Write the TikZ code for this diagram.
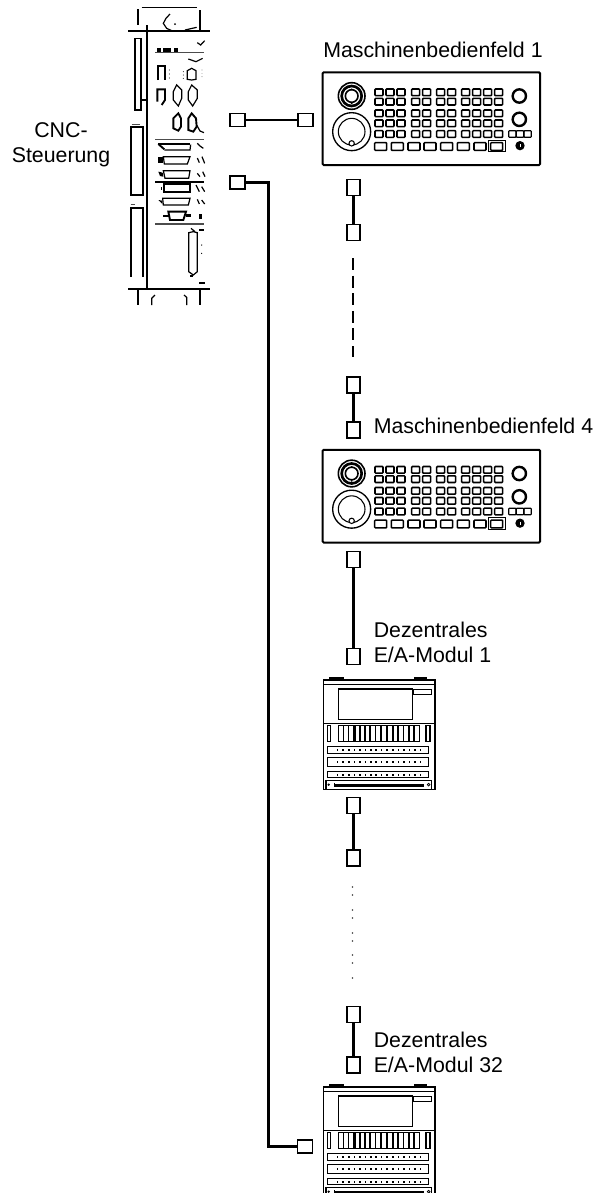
\documentclass[tikz,border=0pt]{standalone}
\usepackage{fontspec}
\setmainfont{Liberation Sans}
\tikzset{
  lbl/.style={inner sep=0pt,font=\fontsize{16pt}{18.75pt}\selectfont,align=left,text=black},
  sqh/.style={draw=black,line width=1.1pt,fill=white,minimum width=11pt,minimum height=10pt,inner sep=0pt,outer sep=0pt},
  sqv/.style={draw=black,line width=1.1pt,fill=white,minimum width=10pt,minimum height=12pt,inner sep=0pt,outer sep=0pt},
  wire/.style={draw=black,line width=1.9pt},
  key/.style={draw=black,line width=1.15pt,rounded corners=.6pt},
  dv/.style={draw=black,line width=.9pt},
  dvt/.style={draw=black,line width=1.4pt},
  dvl/.style={draw=black!70,line width=.6pt},
}
\newcommand{\mypanel}[2]{%
\begin{scope}[shift={(#1,#2)},x=.25pt,y=-.25pt]
  \draw[line width=1.5pt,rounded corners=.8pt] (38,37) rectangle (690,315);
  \foreach \yy in {97,125,160,190,222}{
    \foreach \xx in {207,240,273,317,350,392,425,467,500,533,566}{
      \draw[key] (\xx-12,\yy-10) rectangle (\xx+12,\yy+10);
    }}
  \foreach \xx in {212,262,312,360,410,460,510,560}{
    \draw[key] (\xx-18,248) rectangle (\xx+18,271);
  }
  \draw[line width=.7pt] (535,241) rectangle (585,275);
  \draw[line width=1.2pt] (125,108) circle (40);
  \draw[line width=2pt] (125,108) circle (30);
  \draw[line width=1.2pt] (125,108) circle (19);
  \fill (125,88) circle (3);
  \fill (125,130) circle (3);
  \draw[line width=1pt] (125,215) circle (57);
  \draw[line width=.8pt] (125,215) circle (40);
  \draw[line width=.8pt,fill=white] (125,250) circle (8);
  \draw[line width=1.8pt] (628,108) circle (20);
  \draw[line width=1.8pt] (628,178) circle (20);
  \foreach \xx in {607,630,653}{\draw[key,line width=.9pt] (\xx-11,212) rectangle (\xx+11,232);}
  \fill (630,257) circle (14);
  \draw[white,line width=.4pt] (630,252) -- (630,262);
\end{scope}}
\newcommand{\mymodule}[2]{%
\begin{scope}[shift={(#1,#2)},x=.25pt,y=-.25pt]
  \draw[line width=1.4pt,fill=black] (45,30) rectangle (85,25);
  \draw[line width=1.4pt,fill=black] (300,30) rectangle (333,25);
  \draw[line width=1pt] (25,30) rectangle (360,358);
  \draw[line width=.9pt] (25,43) -- (360,43);
  \draw[line width=1pt] (70,57) rectangle (292,149);
  \draw[line width=.9pt] (296,58) rectangle (350,73);
  \draw[line width=1pt] (25,160) -- (360,160);
  \draw[line width=.9pt] (37,167) rectangle (47,215);
  \draw[line width=.9pt] (333,167) rectangle (345,215);
  \foreach \xx in {70,85,101,120,135,150,166,182,199,218,234,250,266,282,298}{
    \draw[line width=.9pt] (\xx,167) rectangle (\xx+15,215);
  }
  \foreach \yy/\hh in {240/11,276/13,314/9}{
    \draw[line width=.9pt] (38,\yy-\hh) rectangle (341,\yy+\hh);
    \foreach \xx in {67,84,101,118,135,151,167,183,199,216,233,250,267,283,299,316}{
      \fill (\xx-2.5,\yy-3) rectangle (\xx+2.5,\yy+3);
    }
  }
  \draw[line width=.9pt] (33,332) rectangle (350,358);
  \fill (57,338) rectangle (328,352);
  \fill (41,344) circle (4);
  \fill[white] (60,339.5) rectangle (326,342);
  \draw[line width=.6pt] (341,344) circle (4);
\end{scope}}
\begin{document}
\begin{tikzpicture}[x=.75pt,y=-.75pt]
\useasboundingbox[fill=white] (0,0) rectangle (598,1193);
\begin{scope}
\clip (0,0) rectangle (598,1193);
% CNC unit
\begin{scope}[shift={(110,0)},x=.25pt,y=-.25pt]
  \draw[dv] (95,22) -- (262,22);
  \draw[dvt] (85,28) -- (85,75);
  \draw[dvt] (270,30) -- (270,92);
  \draw[dvt] (55,93) -- (300,93);
  \draw[dvt] (110,75) -- (110,868);
  \draw[dvt] (55,868) -- (300,868);
  \draw[dvt] (85,870) -- (85,915);
  \draw[dvt] (270,870) -- (270,915);
  \draw[dv] (125,915) -- (125,895) -- (135,885);
  \draw[dv] (222,885) -- (230,892) -- (230,915);
  \draw[dv] (180,42) -- (168,55) -- (160,70) -- (170,85) -- (185,92);
  \fill (195,72) circle (3);
  \draw[dv] (225,90) -- (260,82);
  \draw[dv] (75,115) rectangle (93,330);
  \draw[dv] (93,300) -- (108,300);
  \draw[dvt] (63,380) rectangle (98,585);
  \draw[dvl] (65,372) -- (90,372);
  \draw[dvt] (63,830) -- (63,625) -- (98,625) -- (98,830);
  \draw[dvl] (62,612) -- (75,612);
  \fill (140,145) rectangle (152,155);
  \fill (158,145) rectangle (182,155);
  \fill (192,145) rectangle (204,155);
  \draw[dv] (262,128) -- (272,135) -- (284,122);
  \draw[dvl,line width=.8pt] (135,157) -- (283,157);
  \draw[dv] (235,177) -- (258,185) -- (278,175);
  \draw[dvt] (145,240) -- (145,198) -- (165,198) -- (165,240);
  \foreach \yy in {210,222,234}{\fill (178,\yy) circle (1.7);}
  \draw[dv] (232,238) -- (232,212) -- (245,205) -- (258,212) -- (258,238) -- (245,240) -- cycle;
  \foreach \yy in {215,225,235}{\fill (220,\yy) circle (1.5);\fill (276,\yy-5) circle (1);}
  \draw[dvt] (142,305) -- (142,268) -- (165,268) -- (165,300) -- (155,315);
  \draw[dv] (200,255) -- (190,275) -- (190,300) -- (205,318) -- (215,295) -- (215,270) -- cycle;
  \draw[dv] (245,255) -- (235,275) -- (235,300) -- (248,318) -- (262,295) -- (262,270) -- cycle;
  \draw[dvt] (205,340) -- (190,355) -- (190,385) -- (205,392) -- (213,380) -- (213,355) -- cycle;
  \draw[dvt] (245,340) -- (235,355) -- (235,390) -- (250,395) -- (260,380) -- (258,355) -- cycle;
  \draw[dv] (260,375) -- (270,393) -- (282,398);
  \draw[dvl,line width=.8pt] (135,418) -- (283,418);
  \draw[dv] (145,432) -- (240,432);
  \draw[dvt] (145,432) -- (163,448);
  \draw[dv] (163,450) -- (240,450) -- (242,434);
  \draw[dv] (262,430) -- (270,438) -- (280,445);
  \draw[dv] (160,470) -- (240,470) -- (232,492) -- (163,492) -- cycle;
  \fill (145,472) rectangle (158,488);
  \draw[dv] (262,474) -- (268,488);
  \draw[dv] (276,470) -- (284,490);
  \draw[dv] (160,512) -- (240,512) -- (236,535) -- (165,535) -- cycle;
  \fill (145,515) -- (158,518) -- (160,530) -- (150,528) -- cycle;
  \draw[dv] (262,520) -- (270,530);\draw[dv] (278,515) -- (285,530);
  \draw[line width=1.7pt] (135,545) -- (283,545);
  \draw[dvt] (162,552) -- (240,552) -- (240,575) -- (162,575) -- cycle;
  \fill (153,560) rectangle (157,570);
  \draw[dv] (258,555) -- (268,575);\draw[dv] (275,560) -- (284,575);
  \draw[dv] (158,595) -- (240,595) -- (235,615) -- (160,615) -- cycle;
  \fill (145,600) -- (157,602) -- (157,612) -- cycle;
  \draw[dv] (262,598) -- (268,612);\draw[dv] (275,600) -- (284,612);
  \draw[dvt] (175,635) -- (228,635) -- (220,660) -- (180,660) -- cycle;
  \fill (158,644) rectangle (176,652);
  \fill (228,642) rectangle (244,650);
  \fill (267,642) rectangle (277,656);
  \draw[dvl,line width=.9pt] (135,672) -- (283,672);
  \draw[dv] (250,695) -- (262,698) -- (262,815) -- (250,825) -- (236,815) -- (236,698) -- cycle;
  \draw[dv] (243,685) -- (255,695);
  \draw[dv] (268,690) -- (282,690);
  \fill (240,825) rectangle (250,832);
  \fill (275,735) circle (2);
  \fill (275,760) circle (2);
  \fill (268,846) rectangle (284,852);
\end{scope}
\mypanel{310}{60}
\mypanel{310}{437.5}
\mymodule{315}{670}
\mymodule{315}{1077}
% squares
\node[sqh] (a1) at (237.5,120) {};
\node[sqh] (a2) at (305.5,120) {};
\node[sqh] (c1) at (237.5,182.5) {};
\node[sqh] (c2) at (305,1146.5) {};
\node[sqv] (p1) at (353.5,187.5) {};
\node[sqv] (p2) at (353.5,232.5) {};
\node[sqv] (p3) at (353.5,385) {};
\node[sqv] (p4) at (353.5,430) {};
\node[sqv] (p5) at (353.5,559.5) {};
\node[sqv] (m1) at (353.5,656.5) {};
\node[sqv] (m2) at (353.5,805.5) {};
\node[sqv] (m3) at (353.5,858) {};
\node[sqv] (m4) at (353.5,1014.5) {};
\node[sqv] (m5) at (353.5,1065) {};
\coordinate (dashtop) at (353,258);
\coordinate (dashbot) at (353,357);
\coordinate (bend1) at (268.5,182.5);
\coordinate (bend2) at (268.5,1146.5);
% wires
\draw[wire] (a1) -- (a2);
\draw[wire] (c1) -- (bend1) -- (bend2) -- (c2);
\draw[wire] (p1) -- (p2);
\draw[wire] (p3) -- (p4);
\draw[wire] (p5) -- (m1);
\draw[wire] (m2) -- (m3);
\draw[wire] (m4) -- (m5);
\draw[line width=.8pt,dash pattern=on 9pt off 4.2pt] (dashtop) -- (dashbot);
\foreach \yy in {887,895,910,918,933,941,955,963,978}{
  \fill[black!75] (352.5,\yy) circle (.6pt);
}
% texts
\node[lbl,anchor=base west] (t1) at (323,57) {Maschinenbedienfeld 1};
\node[lbl,anchor=base west] (t2) at (373.5,433) {Maschinenbedienfeld 4};
\node[lbl,anchor=base] (t3) at (61,137) {CNC-};
\node[lbl,anchor=base] (t4) at (61,162) {Steuerung};
\node[lbl,anchor=base west] (t5) at (373.5,637) {Dezentrales};
\node[lbl,anchor=base west] (t6) at (373.5,662) {E/A-Modul 1};
\node[lbl,anchor=base west] (t7) at (373.5,1047) {Dezentrales};
\node[lbl,anchor=base west] (t8) at (373.5,1072) {E/A-Modul 32};
\end{scope}
\end{tikzpicture}
\end{document}
